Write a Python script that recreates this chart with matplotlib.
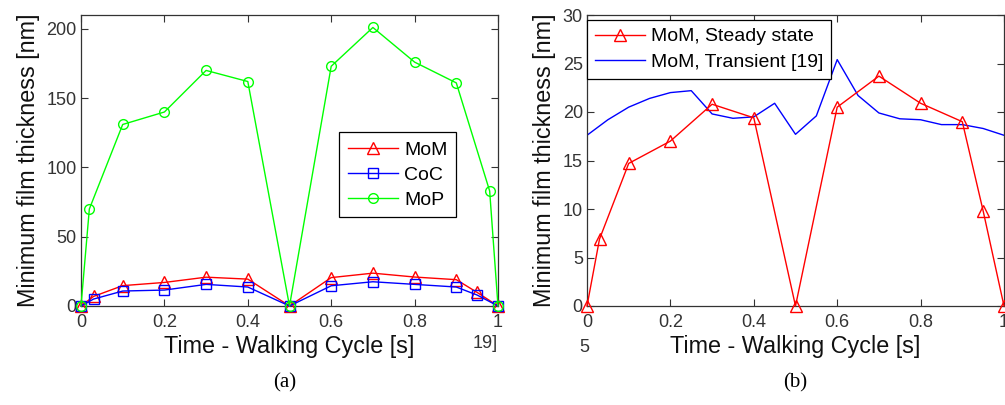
import matplotlib
matplotlib.use("Agg")
import matplotlib.pyplot as plt

# ---------------- data ----------------
t_mom = [0, 0.03, 0.1, 0.2, 0.3, 0.4, 0.5, 0.6, 0.7, 0.8, 0.9, 0.95, 1.0]
mom = [0, 6.9, 14.7, 17.0, 20.8, 19.4, 0, 20.5, 23.7, 20.9, 19.0, 9.8, 0]
coc = [0, 5.0, 10.8, 11.5, 15.6, 13.7, 0, 14.6, 17.5, 15.6, 13.7, 7.9, 0]
t_mop = [0, 0.02, 0.1, 0.2, 0.3, 0.4, 0.5, 0.6, 0.7, 0.8, 0.9, 0.98, 1.0]
mop = [0, 70, 131, 140, 170, 162, 0, 173, 201, 176, 161, 83, 0]

t_tr = [0, 0.05, 0.1, 0.15, 0.2, 0.25, 0.3, 0.35, 0.4, 0.45, 0.5,
        0.55, 0.6, 0.65, 0.7, 0.75, 0.8, 0.85, 0.9, 0.95, 1.0]
transient = [17.6, 19.2, 20.5, 21.4, 22.0, 22.2, 19.8, 19.35, 19.5, 20.9, 17.7,
             19.6, 25.4, 21.7, 19.9, 19.3, 19.2, 18.7, 18.7, 18.3, 17.6]

xticks = [0, 0.2, 0.4, 0.6, 0.8, 1]
xticklabels = ["0", "0.2", "0.4", "0.6", "0.8", "1"]
yticks_a = [0, 50, 100, 150, 200]
yticks_b = [0, 5, 10, 15, 20, 25, 30]

xlabel = "Time - Walking Cycle [s]"
ylabel = "Minimum film thickness [nm]"

# ---------------- style ----------------
plt.rcParams['font.family'] = ['Liberation Sans', 'DejaVu Sans']
RED = '#ff0000'
BLUE = '#0000ff'
GREEN = '#00ff00'
TXT = '#111111'
TICKTXT = '#333333'

fig = plt.figure(figsize=(10.05, 4.05), dpi=100)
axA = fig.add_axes([81/1005, 99/405, 417/1005, 291/405])
axB = fig.add_axes([587/1005, 99/405, 417/1005, 291/405])

def style(ax, yticks, ylim):
    ax.set_xlim(0, 1)
    ax.set_ylim(*ylim)
    ax.set_xticks(xticks)
    ax.set_xticklabels(xticklabels)
    ax.set_yticks(yticks)
    ax.tick_params(direction='in', length=5, width=0.8, top=True, right=True,
                   labelsize=13, colors='#333333', labelcolor=TICKTXT)
    ax.tick_params(axis='x', pad=5.5)
    ax.tick_params(axis='y', pad=3)
    for s in ax.spines.values():
        s.set_linewidth(0.9)
        s.set_color('#333333')
    ax.set_xlabel(xlabel, fontsize=16.8, color=TXT, labelpad=3)
    ax.set_ylabel(ylabel, fontsize=16.8, color=TXT, labelpad=5)

# (a)
axA.plot(t_mom, mom, color=RED, lw=1, marker='^', ms=8, mfc='none', mec=RED,
         mew=1, label='MoM', clip_on=False, zorder=3)
axA.plot(t_mom, coc, color=BLUE, lw=1, marker='s', ms=7, mfc='none', mec=BLUE,
         mew=1, label='CoC', clip_on=False, zorder=3)
axA.plot(t_mop, mop, color=GREEN, lw=1, marker='o', ms=7, mfc='none', mec=GREEN,
         mew=1, label='MoP', clip_on=False, zorder=3)
style(axA, yticks_a, (0, 210))
legA = axA.legend(loc='upper left', bbox_to_anchor=(0.619, 0.597), fontsize=14,
                  frameon=True, fancybox=False, edgecolor='black', framealpha=1,
                  borderaxespad=0, handlelength=2.6, handletextpad=0.3,
                  borderpad=0.45, labelspacing=0.38)
legA.get_frame().set_linewidth(0.9)

# (b)
axB.plot(t_mom, mom, color=RED, lw=1, marker='^', ms=8, mfc='none', mec=RED,
         mew=1, label='MoM, Steady state', clip_on=False, zorder=3)
axB.plot(t_tr, transient, color=BLUE, lw=1, label='MoM, Transient [19]', zorder=2)
style(axB, yticks_b, (0, 30))
legB = axB.legend(loc='upper left', bbox_to_anchor=(0.0, 0.983), fontsize=14,
                  frameon=True, fancybox=False, edgecolor='black', framealpha=1,
                  borderaxespad=0, handlelength=2.6, handletextpad=0.3,
                  borderpad=0.4, labelspacing=0.4)
legB.get_frame().set_linewidth(0.9)

# stray texts and panel captions
fig.text(485/1005, 1 - 343/405, "19]", fontsize=13, color=TICKTXT, ha='center', va='center')
fig.text(584.5/1005, 1 - 347.5/405, "5", fontsize=13, color=TICKTXT, ha='center', va='center')
fig.text(285/1005, 1 - 383/405, "(a)", fontsize=15, family='Liberation Serif',
         color='black', ha='center', va='center')
fig.text(795/1005, 1 - 383/405, "(b)", fontsize=15, family='Liberation Serif',
         color='black', ha='center', va='center')

fig.savefig("out.png", dpi=100)
